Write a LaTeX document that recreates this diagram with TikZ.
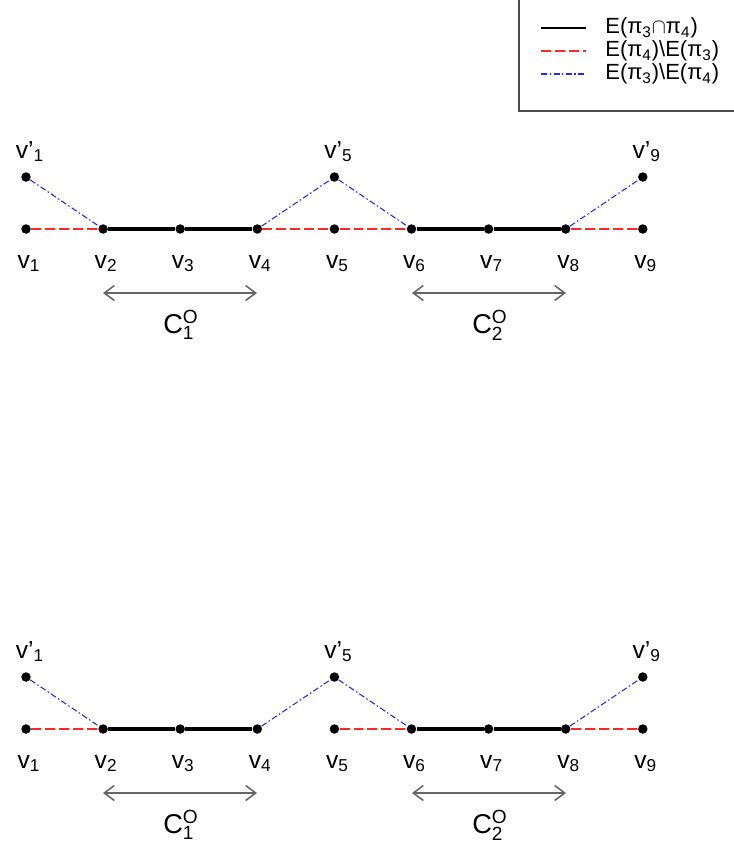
\documentclass[tikz,border=0pt]{standalone}
\usepackage{fontspec}
\setmainfont{Liberation Sans}
\usetikzlibrary{arrows.meta,positioning}

\begin{document}
\begin{tikzpicture}[
  x=0.02cm,y=-0.02cm,
  dot/.style={circle,fill=black,inner sep=0pt,minimum size=0.19cm},
  lbl/.style={font=\fontsize{14}{16}\selectfont,inner sep=0pt,anchor=base},
  clbl/.style={font=\fontsize{15.5}{17}\selectfont,inner sep=0pt,anchor=base},
  keytext/.style={font=\fontsize{12.5}{14}\selectfont,inner sep=0pt,anchor=west},
  both/.style={line width=1.8pt,black},
  only4/.style={line width=0.6pt,red!85,dash pattern=on 2mm off 0.8mm},
  only3/.style={line width=0.6pt,blue!85,dash pattern=on 1.2mm off 0.5mm on 0.3mm off 0.5mm},
  span/.style={{Straight Barb[length=2mm,width=3mm]}-{Straight Barb[length=2mm,width=3mm]},line width=0.9pt,black!60}
]
  \useasboundingbox (0,0) rectangle (734,846);
  \clip (0,0) rectangle (734,846);

  % legend
  \draw[black!70,line width=0.6pt,fill=white] (519,111) rectangle (760,-10);
  \coordinate (k1a) at (541,28); \coordinate (k1b) at (586,28);
  \coordinate (k2a) at (541,51); \coordinate (k2b) at (586,51);
  \coordinate (k3a) at (541,74); \coordinate (k3b) at (586,74);
  \draw[both,line width=1.2pt] (k1a)--(k1b);
  \draw[only4] (k2a)--(k2b);
  \draw[only3] (k3a)--(k3b);
  \node[keytext] (k1) at (605,28) {E(π\textsubscript{3}$\cap$π\textsubscript{4})};
  \node[keytext] (k2) at (605,51) {E(π\textsubscript{4})\textbackslash E(π\textsubscript{3})};
  \node[keytext] (k3) at (605,74) {E(π\textsubscript{3})\textbackslash E(π\textsubscript{4})};

  % the two rows of vertices
  \foreach \r/\dy in {a/0,b/500}{
    \begin{scope}[shift={(0,\dy)}]
      \foreach \i in {1,...,9}{
        \node[dot] (\r\i) at ({26+77.1*(\i-1)},229) {};
        \node[lbl] (\r l\i) at ({29+77.1*(\i-1)},268) {v\textsubscript{\i}};
      }
      \foreach \i in {1,5,9}{
        \node[dot] (\r p\i) at ({26+77.1*(\i-1)},177) {};
        \node[lbl] (\r q\i) at ({30+77.1*(\i-1)},158) {v'\textsubscript{\i}};
      }
      \draw[both] (\r2)--(\r3)--(\r4);
      \draw[both] (\r6)--(\r7)--(\r8);
      \draw[only4] (\r1)--(\r2);
      \draw[only4] (\r5)--(\r6);
      \draw[only4] (\r8)--(\r9);
      \draw[only3] (\r p1)--(\r2);
      \draw[only3] (\r4)--(\r p5)--(\r6);
      \draw[only3] (\r8)--(\r p9);

      \coordinate (\r s1) at (103,293); \coordinate (\r e1) at (257,293);
      \coordinate (\r s2) at (412,293); \coordinate (\r e2) at (566,293);
      \draw[span] (\r s1)--(\r e1);
      \draw[span] (\r s2)--(\r e2);
      \node[clbl] (\r c1) at (181,333) {$\mathrm{C}_{\mathrm{1}}^{\mathrm{O}}$};
      \node[clbl] (\r c2) at (490,333) {$\mathrm{C}_{\mathrm{2}}^{\mathrm{O}}$};
    \end{scope}
  }
  \draw[only4] (a4)--(a5);
\end{tikzpicture}
\end{document}
